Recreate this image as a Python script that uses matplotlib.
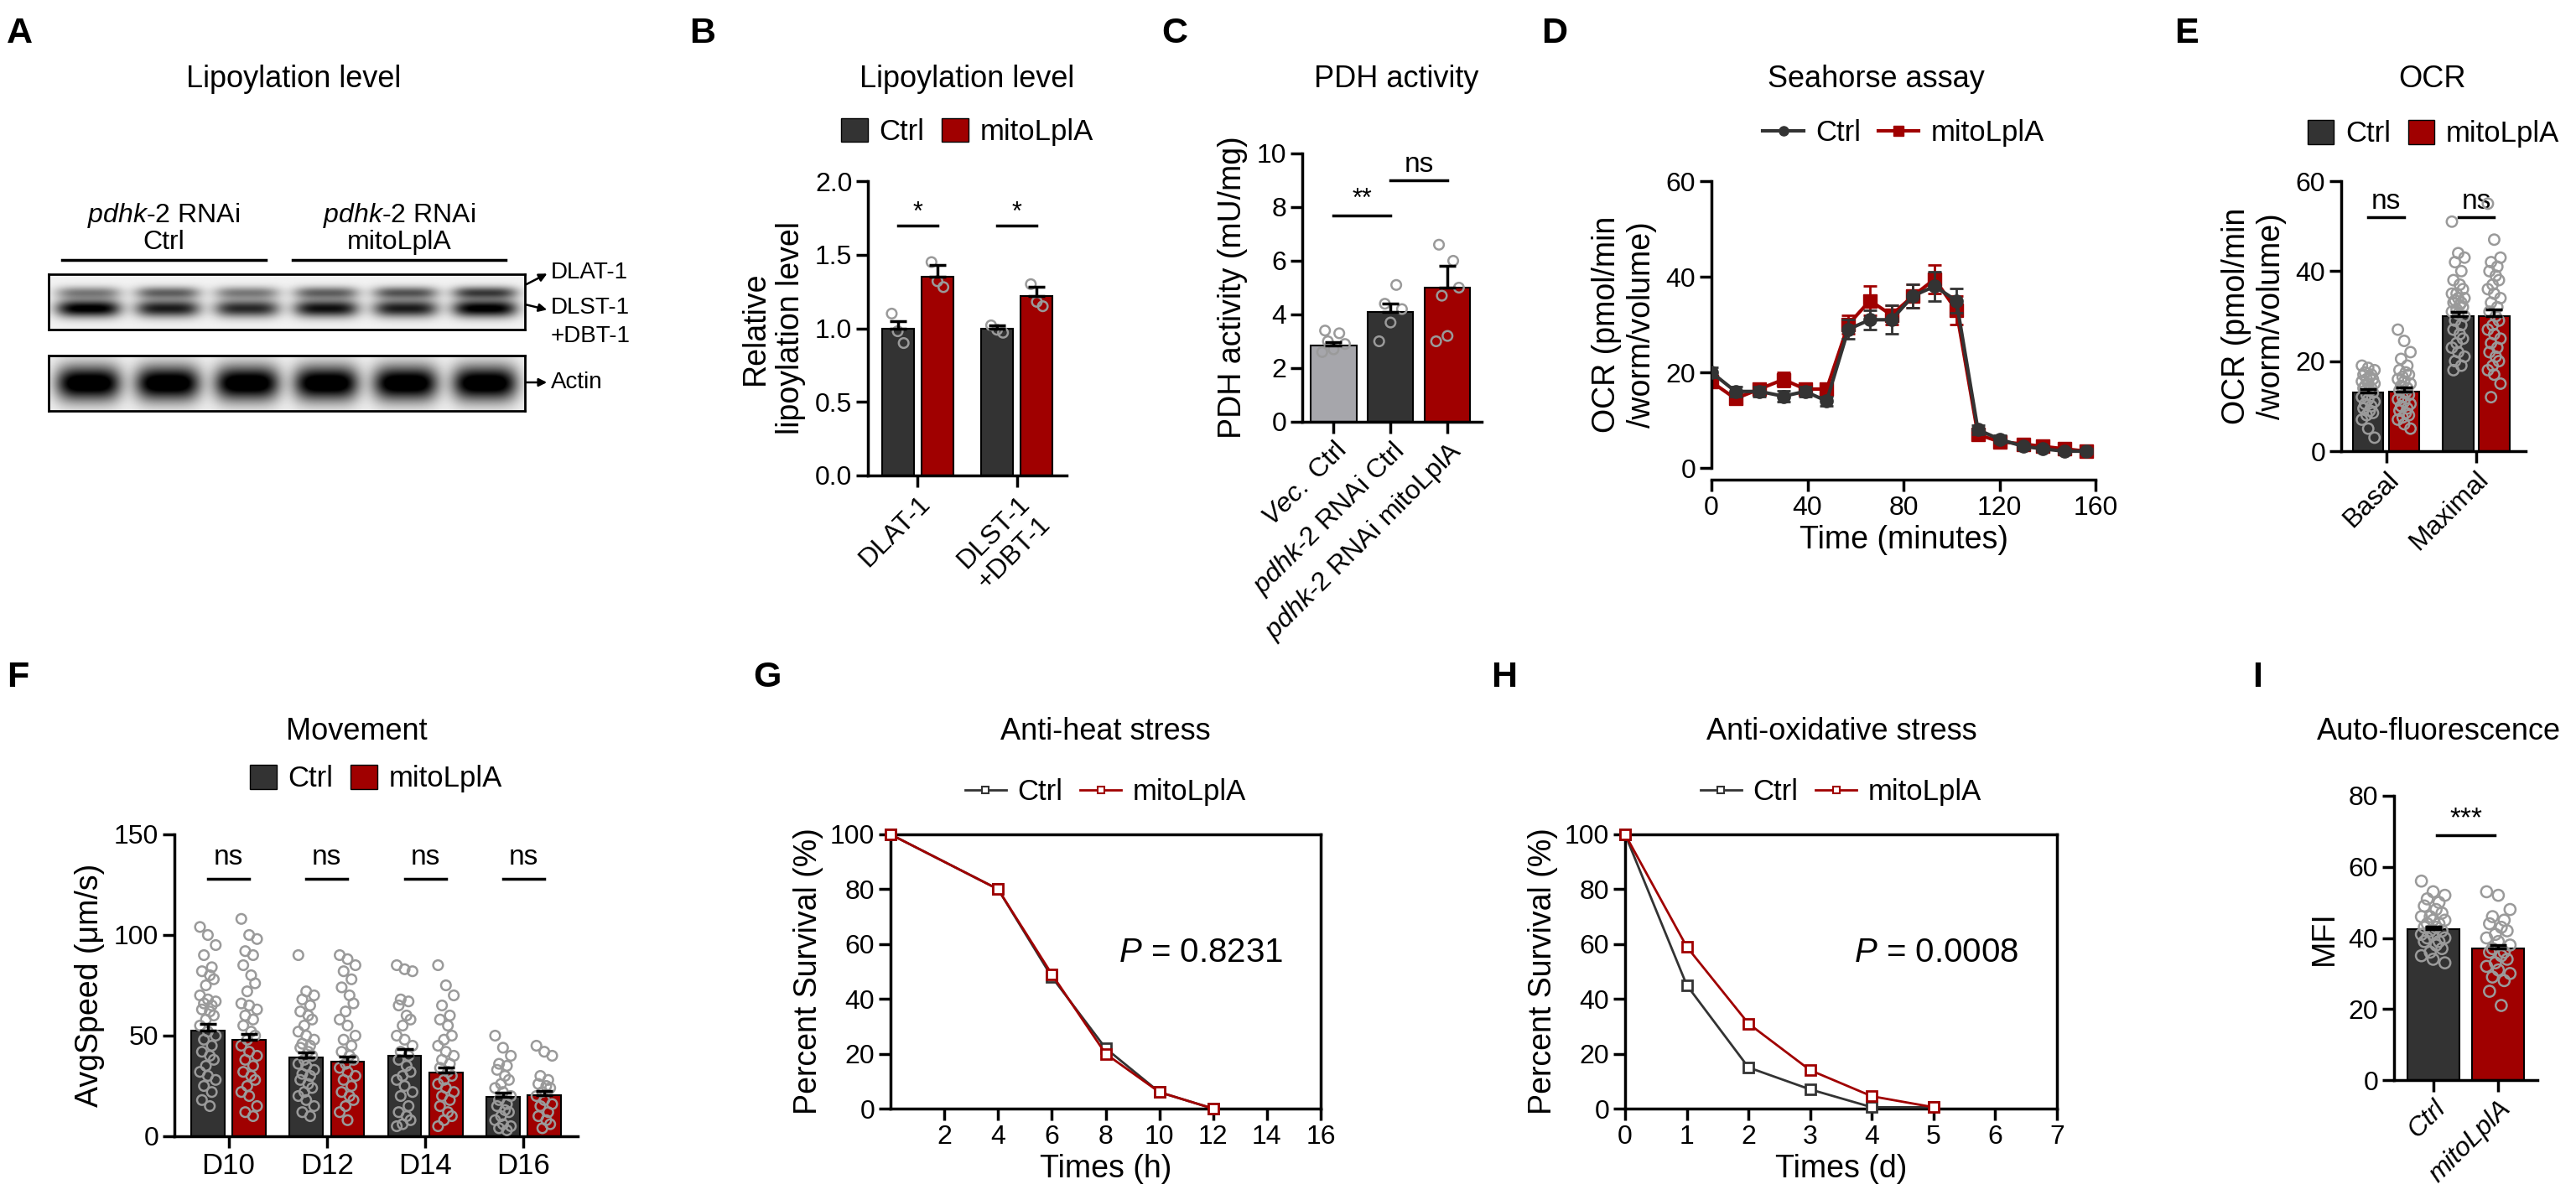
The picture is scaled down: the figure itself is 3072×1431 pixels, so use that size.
import numpy as np
import matplotlib
matplotlib.use("Agg")
import matplotlib.pyplot as plt
from matplotlib.lines import Line2D
from matplotlib.patches import Patch

plt.rcParams['font.family'] = ['Liberation Sans Narrow', 'Liberation Sans', 'DejaVu Sans']
plt.rcParams['mathtext.fontset'] = 'custom'
plt.rcParams['mathtext.it'] = 'Liberation Sans:italic'
plt.rcParams['mathtext.rm'] = 'Liberation Sans'

W, H = 3072, 1431
CTRL = '#333333'
MITO = '#a00000'
VEC = '#a6a6ab'
PT = '#9a9a9a'

# ---- data ----
blot_lanes = ['Ctrl', 'Ctrl', 'Ctrl', 'mitoLplA', 'mitoLplA', 'mitoLplA']
dlat_band = [0.45, 0.55, 0.45, 0.55, 0.6, 0.7]
dlst_band = [1.0, 0.85, 0.8, 0.9, 0.85, 1.0]
actin_band = [1.0, 1.0, 1.0, 1.0, 1.0, 1.0]

b_groups = ['DLAT-1', 'DLST-1\n+DBT-1']
b_ctrl = [1.0, 1.0]
b_ctrl_err = [0.05, 0.02]
b_mito = [1.35, 1.22]
b_mito_err = [0.08, 0.06]
b_ctrl_pts = [[1.10, 0.98, 0.90], [1.02, 0.99, 0.97]]
b_mito_pts = [[1.45, 1.32, 1.28], [1.30, 1.18, 1.15]]

c_labels = ['$\\it{Vec.}$ Ctrl', '$\\it{pdhk}$-2 RNAi Ctrl', '$\\it{pdhk}$-2 RNAi mitoLplA']
c_means = [2.85, 4.1, 5.0]
c_err = [0.12, 0.3, 0.8]
c_pts = [[2.6, 2.7, 2.9, 3.0, 3.3, 3.4], [3.0, 3.7, 4.2, 4.4, 5.1], [3.0, 3.2, 5.0, 4.7, 6.0, 6.6]]

d_time = [0, 10, 20, 30, 39, 48, 57, 66, 75, 84, 93, 102, 111, 120, 130, 138, 147, 156]
d_ctrl = [20, 16, 16, 15, 16, 14, 29, 31, 31, 36, 38, 35, 8, 6, 4.5, 4, 3.5, 3.5]
d_ctrl_err = [1, 1, 1, 1.2, 1, 1, 2, 2, 3, 2.5, 3, 2.5, 1, 0.8, 0.6, 0.5, 0.5, 0.5]
d_mito = [18, 14.5, 16.5, 18.5, 16.5, 16.5, 30, 35, 32, 36, 39.5, 33, 7, 5.5, 5, 4.5, 4, 3.5]
d_mito_err = [1, 1, 1, 1.5, 1, 1, 2, 3, 2, 2.5, 3, 3, 1, 0.8, 0.6, 0.5, 0.5, 0.5]

e_groups = ['Basal', 'Maximal']
e_ctrl = [13.0, 30.0]
e_ctrl_err = [0.7, 1.0]
e_mito = [13.3, 30.0]
e_mito_err = [0.8, 1.5]
e_ctrl_pts = [[19, 18.5, 18, 17.5, 17, 17, 16.5, 16, 16, 15.5, 15, 15, 14.5, 14, 14, 13.5, 13, 12.5, 12, 11.5,
               11, 10.5, 10, 9.5, 9, 8.5, 8, 7, 5, 3],
              [51, 44, 43, 42, 40, 38, 37, 36, 35, 35, 34, 34, 33.5, 33, 33, 32.5, 32, 31.5, 31, 30.5, 30, 29, 28,
               27, 26, 25, 24, 23, 22, 21, 20, 19, 18]]
e_mito_pts = [[27, 24.5, 22, 20.5, 19, 18, 17.5, 17, 16.5, 16, 15.5, 15, 14.5, 14, 13.5, 13, 12.5, 12, 11.5, 11,
               10.5, 10, 9.5, 9, 8.5, 8, 7.5, 7, 6, 5],
              [55, 47, 43, 42, 41, 40, 39, 38, 37, 36, 35, 34, 33, 32, 31, 30, 29, 28, 27, 26, 25, 24, 23, 22, 21,
               20, 19, 18, 17, 15, 12]]

f_days = ['D10', 'D12', 'D14', 'D16']
f_ctrl = [52.5, 39, 40, 19.5]
f_ctrl_err = [3.5, 2.5, 3.5, 2]
f_mito = [48, 37, 31.5, 20.5]
f_mito_err = [3, 2.5, 2.5, 2]
f_ctrl_pts = [[104, 100, 95, 90, 84, 82, 80, 78, 75, 70, 68, 67, 66, 65, 63, 62, 60, 58, 55, 52, 50, 48, 45, 42,
               40, 38, 35, 32, 30, 28, 25, 22, 18, 15],
              [90, 72, 70, 68, 65, 62, 60, 58, 55, 52, 50, 48, 46, 45, 44, 42, 40, 38, 36, 35, 33, 31, 30, 28,
               26, 24, 22, 20, 18, 15, 12, 10],
              [85, 83, 82, 68, 67, 65, 60, 58, 55, 50, 48, 45, 42, 40, 38, 35, 32, 30, 28, 25, 22, 20, 15, 12, 10,
               8, 6, 5],
              [50, 44, 40, 36, 35, 33, 30, 28, 26, 24, 22, 20, 18, 16, 15, 13, 12, 10, 8, 6, 5, 4, 3]]
f_mito_pts = [[108, 100, 98, 92, 90, 85, 80, 76, 72, 66, 65, 63, 60, 58, 55, 52, 50, 48, 45, 42, 40, 38, 35, 32,
               30, 28, 25, 22, 20, 15, 12, 10],
              [90, 88, 85, 82, 78, 74, 70, 66, 62, 58, 55, 50, 48, 45, 42, 40, 38, 36, 34, 32, 30, 28, 25, 22,
               20, 18, 15, 12, 8],
              [85, 75, 70, 65, 60, 58, 55, 50, 48, 45, 42, 40, 38, 36, 34, 32, 30, 28, 26, 24, 22, 20, 18, 15,
               12, 10, 8, 5],
              [45, 42, 40, 30, 28, 26, 25, 24, 22, 20, 18, 16, 15, 12, 10, 8, 6, 4]]

g_time = [0, 4, 6, 8, 10, 12]
g_ctrl = [100, 80, 48, 22, 6, 0]
g_mito = [100, 80, 49, 20, 6, 0]

h_time = [0, 1, 2, 3, 4, 5]
h_ctrl = [100, 45, 15, 7, 0.5, 0.5]
h_mito = [100, 59, 31, 14, 4.5, 0.5]

i_groups = ['Ctrl', 'mitoLplA']
i_means = [42.5, 37.0]
i_err = [0.8, 1.0]
i_pts = [[56, 53, 52, 51, 50, 49, 48, 47, 46, 46, 45, 45, 44, 44, 43, 43, 42, 42, 41, 41, 40, 40, 39, 39, 38,
          37, 36, 35, 34, 33],
         [53, 52, 48, 46, 45, 44, 43, 42, 41, 40, 39, 38, 37, 36, 36, 35, 34, 33, 32, 31, 30, 29, 28, 25, 21]]

# ---- helpers ----
fig = plt.figure(figsize=(W / 100, H / 100), dpi=100)
TICK = 23
LAB = 27
YFONT = ['Liberation Sans', 'DejaVu Sans']


def ax_px(l, t, r, b):
    return fig.add_axes([l / W, 1 - b / H, (r - l) / W, (b - t) / H])


def style(ax, box=False):
    for s in ['top', 'right']:
        ax.spines[s].set_visible(box)
    for s in ax.spines.values():
        s.set_linewidth(2.5)
    ax.tick_params(direction='out', length=10, width=2.5, labelsize=TICK)


def jitter(n, width):
    pat = np.array([-1.0, 0.0, 1.0, -0.5, 0.5, -0.75, 0.25, 0.75, -0.25])
    return pat[np.arange(n) % len(pat)] * width


def scatter(ax, x, pts, width=0.12, s=70):
    pts = np.asarray(pts)
    ax.scatter(x + jitter(len(pts), width), pts, s=s, facecolors='none', edgecolors=PT,
               linewidths=1.8, zorder=4)


def bar(ax, x, h, err, color, width):
    ax.bar(x, h, width=width, color=color, edgecolor='black', linewidth=1.5, zorder=2)
    ax.errorbar(x, h, yerr=[[0], [err]], fmt='none', ecolor='black', elinewidth=2.5,
                capsize=7, capthick=2.5, zorder=5)


def sig(ax, x1, x2, y, text, dy, fs=22):
    ax.plot([x1, x2], [y, y], color='black', lw=2.5, clip_on=False)
    ax.text((x1 + x2) / 2, y + dy, text, ha='center', va='bottom', fontsize=fs, clip_on=False)


def sq_legend(ax, y_anchor, fs=25):
    h = [Patch(facecolor=CTRL, edgecolor='black'), Patch(facecolor=MITO, edgecolor='black')]
    ax.legend(h, ['Ctrl', 'mitoLplA'], loc='lower center', bbox_to_anchor=(0.5, y_anchor), ncol=2,
              frameon=False, fontsize=fs, handlelength=0.9, handleheight=0.9, columnspacing=0.6,
              handletextpad=0.4, borderaxespad=0)


# overlay for letters, titles, blot annotations
ov = fig.add_axes([0, 0, 1, 1])
ov.set_xlim(0, W)
ov.set_ylim(H, 0)
ov.axis('off')

for letter, x, y in [('A', 8, 40), ('B', 822, 40), ('C', 1385, 40), ('D', 1838, 40), ('E', 2593, 40),
                     ('F', 8, 808), ('G', 898, 808), ('H', 1778, 808), ('I', 2686, 808)]:
    ov.text(x, y, letter, fontsize=31, fontweight='bold', ha='left', va='center',
            family=['Liberation Sans', 'DejaVu Sans'])

for txt, x, y in [('Lipoylation level', 350, 95), ('Lipoylation level', 1153, 95), ('PDH activity', 1665, 95),
                  ('Seahorse assay', 2237, 95), ('OCR', 2900, 95),
                  ('Movement', 425, 873), ('Anti-heat stress', 1318, 873), ('Anti-oxidative stress', 2196, 873),
                  ('Auto-fluorescence', 2908, 873)]:
    ov.text(x, y, txt, fontsize=26, ha='center', va='center')

# ---- A: western blot ----
lane_x = np.linspace(0.5 / 6, 5.5 / 6, 6)


def blot_img(rows, bands, widths):
    xx = np.linspace(0, 1, 600)
    yy = np.linspace(0, 1, rows)
    img = np.zeros((rows, 600)) + 0.05
    for (yc, ys), inten in zip(widths, bands):
        for lx, a in zip(lane_x, inten):
            gx = np.exp(-((xx - lx) / 0.068) ** 4)
            gy = np.exp(-((yy - yc) / ys) ** 2)
            img += a * np.outer(gy, gx)
    return np.clip(img, 0, 1)


a1 = ax_px(58, 327, 626, 393)
a1.imshow(blot_img(70, [dlat_band, dlst_band], [(0.33, 0.11), (0.62, 0.16)]), cmap='gray_r',
          vmin=0, vmax=1, aspect='auto', extent=[0, 1, 1, 0])
a2 = ax_px(58, 424, 626, 490)
a2.imshow(blot_img(70, [actin_band], [(0.5, 0.32)]), cmap='gray_r', vmin=0, vmax=0.9,
          aspect='auto', extent=[0, 1, 1, 0])
for a in (a1, a2):
    a.set_xticks([])
    a.set_yticks([])
    for s in a.spines.values():
        s.set_linewidth(2)

ov.plot([74, 317], [310, 310], color='black', lw=2.5)
ov.plot([349, 603], [310, 310], color='black', lw=2.5)
ov.text(195, 272, '$\\it{pdhk}$-2 RNAi\nCtrl', ha='center', va='center', fontsize=23, linespacing=1.0)
ov.text(476, 272, '$\\it{pdhk}$-2 RNAi\nmitoLplA', ha='center', va='center', fontsize=23, linespacing=1.0)
for (x0, y0), (x1, y1), t in [((622, 342), (655, 325), 'DLAT-1'), ((622, 362), (655, 370), 'DLST-1\n+DBT-1'),
                              ((622, 456), (655, 456), 'Actin')]:
    ov.annotate('', xy=(x1, y1), xytext=(x0, y0),
                arrowprops=dict(arrowstyle='-|>', color='black', lw=1.8, mutation_scale=14))
    ov.text(x1 + 2, y1 + (14 if '\n' in t else 0), t, ha='left', va='center', fontsize=20, linespacing=1.4)

# ---- B ----
ax = ax_px(1035, 216, 1272, 567)
style(ax)
xb = np.array([0, 1])
for i in range(2):
    bar(ax, xb[i] - 0.2, b_ctrl[i], b_ctrl_err[i], CTRL, 0.32)
    bar(ax, xb[i] + 0.2, b_mito[i], b_mito_err[i], MITO, 0.32)
    scatter(ax, xb[i] - 0.2, b_ctrl_pts[i], 0.06)
    scatter(ax, xb[i] + 0.2, b_mito_pts[i], 0.06)
    sig(ax, xb[i] - 0.2, xb[i] + 0.2, 1.7, '*', 0.0)
ax.set_ylim(0, 2.0)
ax.set_yticks([0, 0.5, 1.0, 1.5, 2.0])
ax.set_xlim(-0.5, 1.5)
ax.set_xticks(xb)
ax.set_xticklabels(b_groups, rotation=45, ha='right', rotation_mode='anchor', fontsize=TICK)
ax.set_ylabel('Relative\nlipoylation level', fontsize=LAB, family=YFONT, labelpad=8)
sq_legend(ax, 1.08)

# ---- C ----
ax = ax_px(1553, 183, 1767, 503)
style(ax)
xc = np.arange(3)
for i, col in enumerate([VEC, CTRL, MITO]):
    bar(ax, xc[i], c_means[i], c_err[i], col, 0.8)
    scatter(ax, xc[i], c_pts[i], 0.2)
sig(ax, 0, 1, 7.7, '**', 0.1)
sig(ax, 1, 2, 9.0, 'ns', 0.1, 24)
ax.set_ylim(0, 10)
ax.set_yticks([0, 2, 4, 6, 8, 10])
ax.set_xlim(-0.55, 2.6)
ax.set_xticks(xc)
ax.set_xticklabels(c_labels, rotation=45, ha='right', rotation_mode='anchor', fontsize=TICK)
ax.set_ylabel('PDH activity (mU/mg)', fontsize=LAB, family=YFONT, labelpad=8)

# ---- D ----
ax = ax_px(2041, 216, 2499, 558)
style(ax)
ax.errorbar(d_time, d_ctrl, yerr=d_ctrl_err, color=CTRL, lw=3, marker='o', ms=11, capsize=6,
            elinewidth=2, capthick=2, zorder=3)
ax.errorbar(d_time, d_mito, yerr=d_mito_err, color=MITO, lw=3, marker='s', ms=11, capsize=6,
            elinewidth=2, capthick=2, zorder=2)
ax.set_xlim(0, 160)
ax.set_ylim(0, 60)
ax.set_xticks([0, 40, 80, 120, 160])
ax.set_yticks([0, 20, 40, 60])
ax.spines['bottom'].set_position(('outward', 10))
ax.set_xlabel('Time (minutes)', fontsize=27)
ax.set_ylabel('OCR (pmol/min\n/worm/volume)', fontsize=LAB, family=YFONT, labelpad=8)
hd = [Line2D([], [], color=CTRL, marker='o', lw=3, ms=8), Line2D([], [], color=MITO, marker='s', lw=3, ms=8)]
ax.legend(hd, ['Ctrl', 'mitoLplA'], loc='lower center', bbox_to_anchor=(0.5, 1.08), ncol=2, frameon=False,
          fontsize=25, handlelength=1.4, columnspacing=0.6, handletextpad=0.4, borderaxespad=0)

# ---- E ----
ax = ax_px(2792, 216, 3012, 538)
style(ax)
xe = np.array([0, 1])
for i in range(2):
    bar(ax, xe[i] - 0.2, e_ctrl[i], e_ctrl_err[i], CTRL, 0.34)
    bar(ax, xe[i] + 0.2, e_mito[i], e_mito_err[i], MITO, 0.34)
    scatter(ax, xe[i] - 0.2, e_ctrl_pts[i], 0.07, 80)
    scatter(ax, xe[i] + 0.2, e_mito_pts[i], 0.07, 80)
    sig(ax, xe[i] - 0.2, xe[i] + 0.2, 52, 'ns', 0.5, 24)
ax.set_ylim(0, 60)
ax.set_yticks([0, 20, 40, 60])
ax.set_xlim(-0.5, 1.55)
ax.set_xticks(xe)
ax.set_xticklabels(e_groups, rotation=45, ha='right', rotation_mode='anchor', fontsize=TICK)
ax.set_ylabel('OCR (pmol/min\n/worm/volume)', fontsize=LAB, family=YFONT, labelpad=8)
sq_legend(ax, 1.08)

# ---- F ----
ax = ax_px(208, 995, 689, 1355)
style(ax)
xf = np.arange(4)
for i in range(4):
    bar(ax, xf[i] - 0.21, f_ctrl[i], f_ctrl_err[i], CTRL, 0.34)
    bar(ax, xf[i] + 0.21, f_mito[i], f_mito_err[i], MITO, 0.34)
    scatter(ax, xf[i] - 0.21, f_ctrl_pts[i], 0.08)
    scatter(ax, xf[i] + 0.21, f_mito_pts[i], 0.08)
    sig(ax, xf[i] - 0.21, xf[i] + 0.21, 128, 'ns', 4, 24)
ax.set_ylim(0, 150)
ax.set_yticks([0, 50, 100, 150])
ax.set_xlim(-0.55, 3.55)
ax.set_xticks(xf)
ax.set_xticklabels(f_days, fontsize=TICK + 2)
ax.set_ylabel('AvgSpeed (μm/s)', fontsize=LAB, family=YFONT, labelpad=8)
sq_legend(ax, 1.1)


# ---- G / H ----
def surv(ax, x, c, m, xlim, xticks, xtlabels, xlabel, ptxt):
    style(ax, box=True)
    ax.plot(x, c, color=CTRL, lw=2, marker='s', ms=8, mfc='white', mew=2, clip_on=False, zorder=3)
    ax.plot(x, m, color=MITO, lw=2, marker='s', ms=8, mfc='white', mew=2, clip_on=False, zorder=4)
    ax.set_xlim(*xlim)
    ax.set_ylim(0, 100)
    ax.set_yticks([0, 20, 40, 60, 80, 100])
    ax.set_xticks(xticks)
    ax.set_xticklabels(xtlabels)
    ax.tick_params(top=False, right=False)
    ax.set_xlabel(xlabel, fontsize=27)
    ax.set_ylabel('Percent Survival (%)', fontsize=LAB, family=YFONT, labelpad=6)
    ax.text(0.53, 0.57, ptxt, transform=ax.transAxes, fontsize=29, ha='left', va='center')
    hl = [Line2D([], [], color=CTRL, marker='s', lw=2, ms=6, mfc='white', mew=1.5),
          Line2D([], [], color=MITO, marker='s', lw=2, ms=6, mfc='white', mew=1.5)]
    ax.legend(hl, ['Ctrl', 'mitoLplA'], loc='lower center', bbox_to_anchor=(0.5, 1.06), ncol=2,
              frameon=False, fontsize=25, handlelength=1.4, columnspacing=0.6, handletextpad=0.4,
              borderaxespad=0)


ax = ax_px(1062, 995, 1575, 1322)
surv(ax, g_time, g_ctrl, g_mito, (0, 16), [2, 4, 6, 8, 10, 12, 14, 16],
     ['2', '4', '6', '8', '10', '12', '14', '16'], 'Times (h)', '$P$ = 0.8231')

ax = ax_px(1938, 995, 2453, 1322)
surv(ax, h_time, h_ctrl, h_mito, (0, 7), list(range(8)), [str(v) for v in range(8)],
     'Times (d)', '$P$ = 0.0008')

# ---- I ----
ax = ax_px(2855, 949, 3026, 1288)
style(ax)
xi = np.arange(2)
for i, col in enumerate([CTRL, MITO]):
    bar(ax, xi[i], i_means[i], i_err[i], col, 0.8)
    scatter(ax, xi[i], i_pts[i], 0.18, 90)
sig(ax, 0.05, 0.95, 69, '***', 0.8, 24)
ax.set_ylim(0, 80)
ax.set_yticks([0, 20, 40, 60, 80])
ax.set_xlim(-0.6, 1.6)
ax.set_xticks(xi)
ax.set_xticklabels(i_groups, rotation=45, ha='right', rotation_mode='anchor', fontsize=TICK, style='italic')
ax.set_ylabel('MFI', fontsize=LAB, family=YFONT, labelpad=8)

fig.savefig('out.png', dpi=100)
